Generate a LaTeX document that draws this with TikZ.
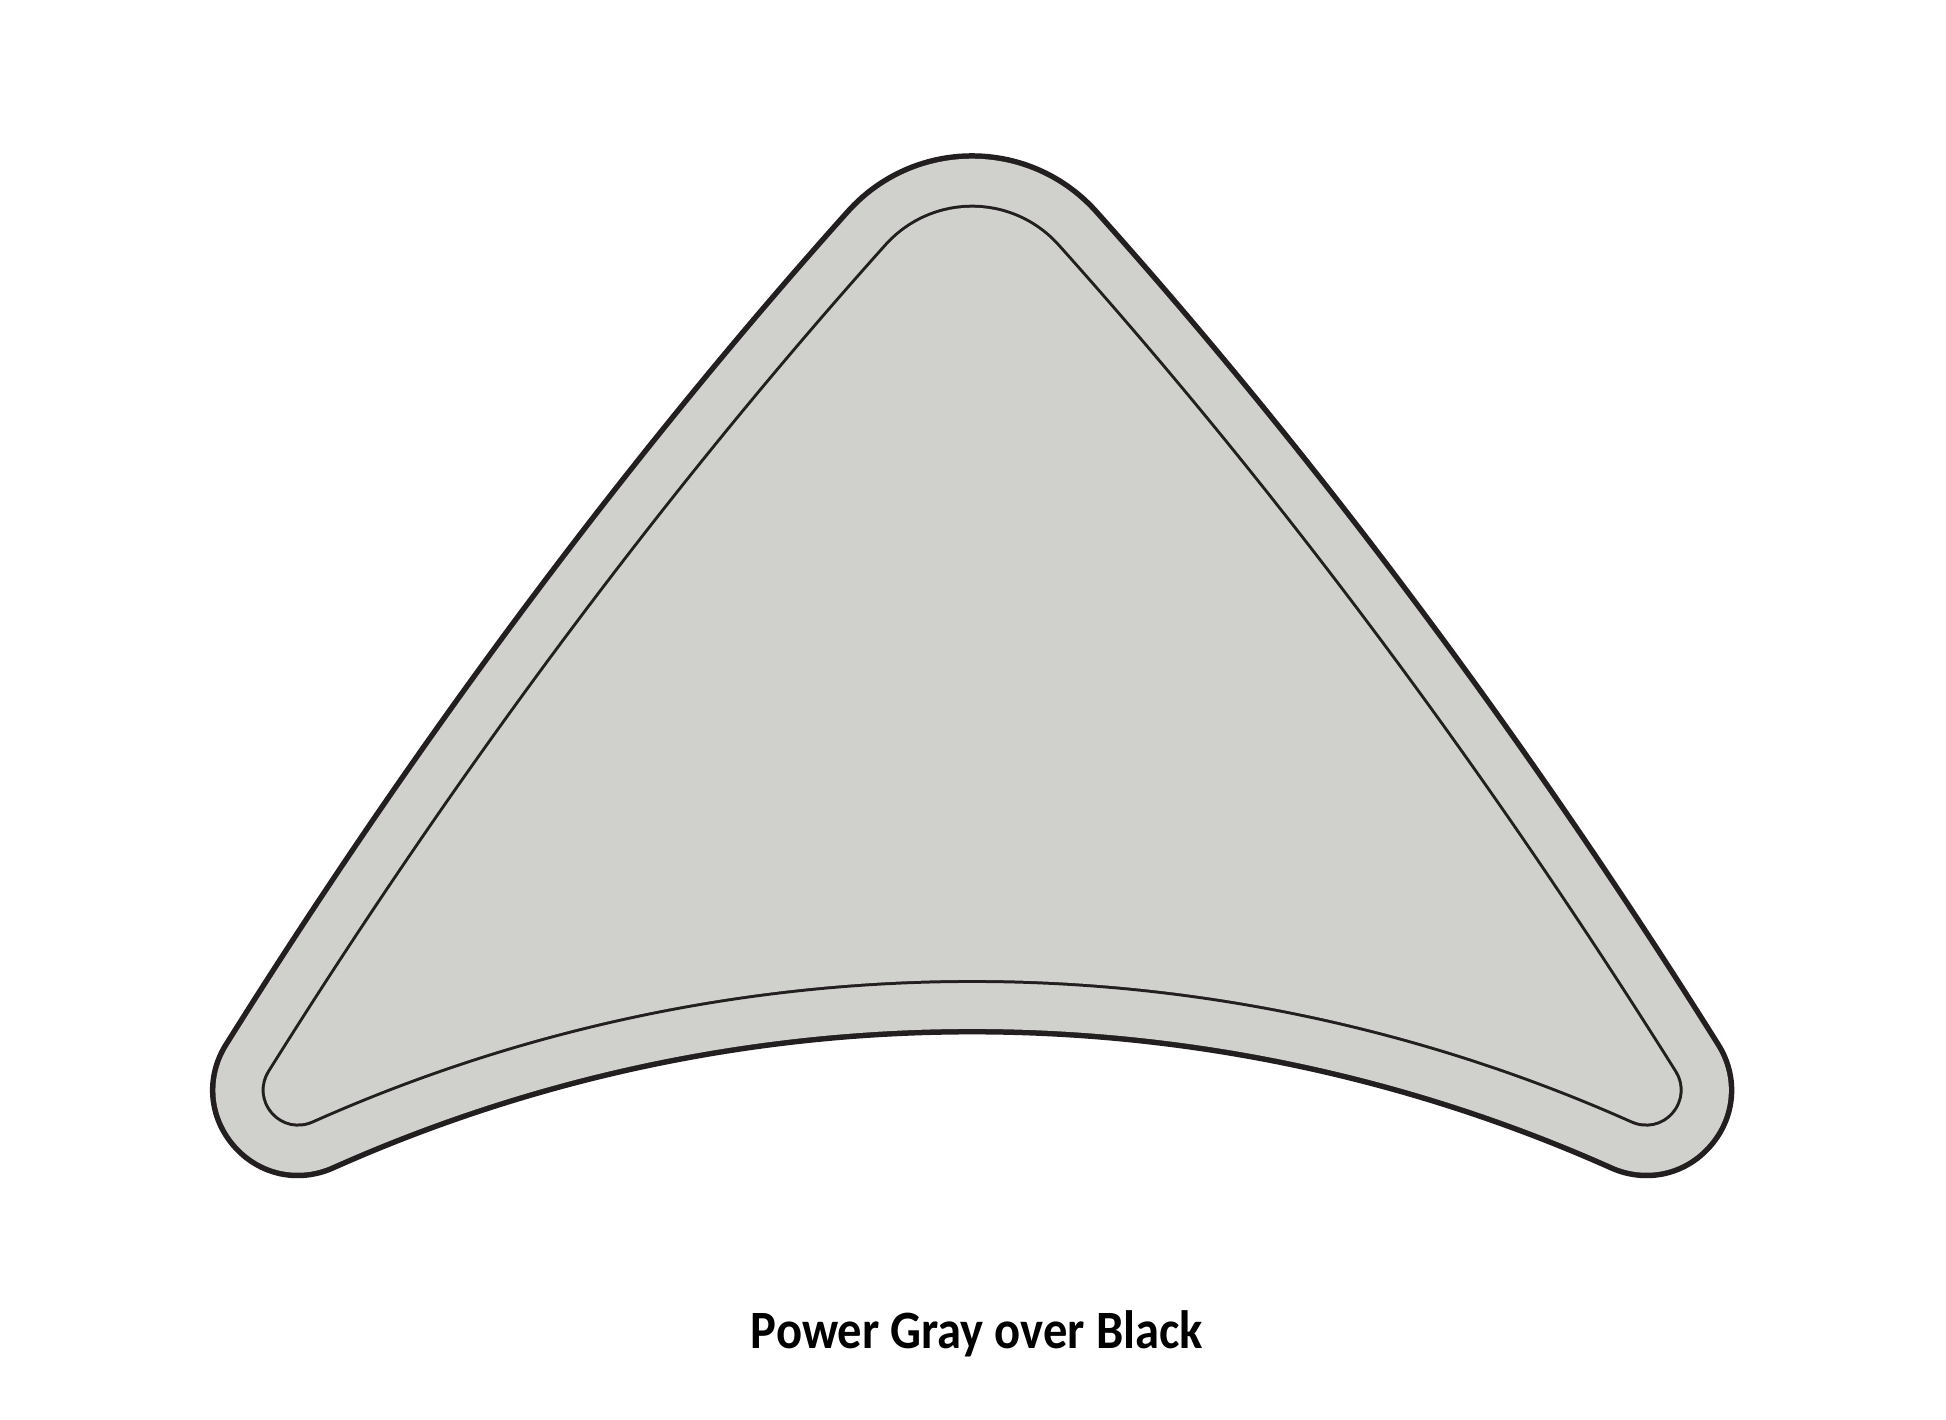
\documentclass[tikz,border=0pt]{standalone}
\usepackage{fontspec}
\newfontfamily\labfont{Carlito}
\definecolor{ink}{RGB}{35,31,32}
\definecolor{pgray}{RGB}{208,209,204}
\newcommand\skelpath[1]{%
  \path[#1] (911.8,1151) arc[start angle=138,end angle=42,radius=81]
    .. controls (1259,898) and (1466,616) .. (1646,329)
    arc[start angle=65.94,end angle=114.06,radius=1653]
    .. controls (478,616) and (685,898) .. (911.8,1151) -- cycle;}
\tikzset{
  band/.style={line join=round},
  lbl/.style={font=\labfont\bfseries\fontsize{27}{32}\selectfont, anchor=base, inner sep=0pt}
}
\begin{document}
\begin{tikzpicture}[x=0.5pt,y=0.5pt]
\useasboundingbox[fill=white] (0,0) rectangle (1946,1419);
% outer black edge
\skelpath{band, draw=ink, line width=88pt}
\skelpath{band, draw=pgray, fill=pgray, line width=82.5pt}
% inner black edge
\skelpath{band, draw=ink, line width=36.5pt}
\skelpath{band, draw=pgray, fill=pgray, line width=33.5pt}
\node[lbl] (label) at (977,71) {\scalebox{0.9}[1]{Power Gray over Black}};
\end{tikzpicture}
\end{document}
